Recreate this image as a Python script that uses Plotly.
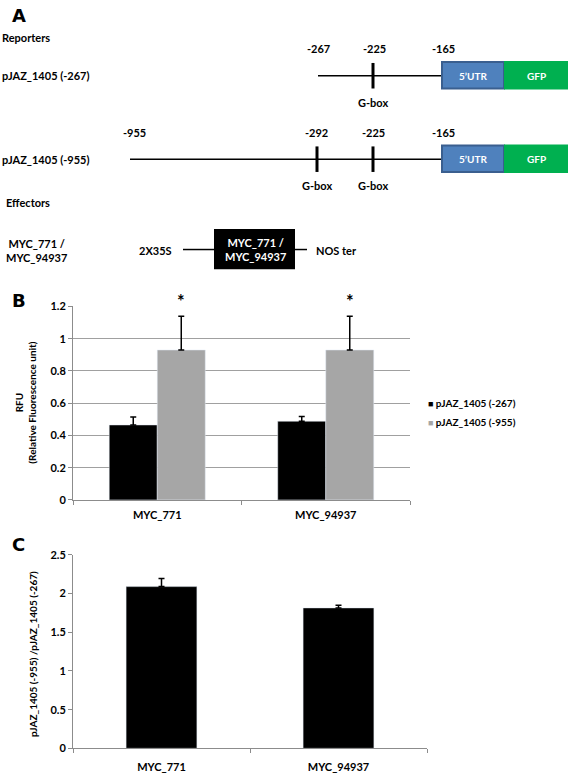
import plotly.graph_objects as go

W, H = 568, 773

# ---- data ----
reporters = ["pJAZ_1405 (-267)", "pJAZ_1405 (-955)"]
sites_short = ["-267", "-225", "-165"]
sites_long = ["-955", "-292", "-225", "-165"]
gbox = "G-box"
effector = "MYC_771 /<br>MYC_94937"
promoter = "2X35S"
terminator = "NOS ter"

effectors_b = ["MYC_771", "MYC_94937"]
rfu_267 = [0.465, 0.488]
rfu_267_err = [0.05, 0.03]
rfu_955 = [0.93, 0.93]
rfu_955_err = [0.21, 0.21]
signif = ["*", "*"]

effectors_c = ["MYC_771", "MYC_94937"]
ratio = [2.09, 1.815]
ratio_err = [0.105, 0.035]

FONT = "Lato"
GRAY_AX = "#8c8c8c"
BAR_COLORS = ["black", "#a6a6a6"]


def px(x):
    return x / W


def py(y):
    return 1 - y / H


def txt(x, y, s, size=11, color="black", anchor="center", angle=0, family=FONT):
    return dict(x=px(x), y=py(y), xref="paper", yref="paper", text=s, showarrow=False,
                xanchor=anchor, yanchor="middle", textangle=angle,
                font=dict(family=family, size=size, color=color, weight="bold"))


def line(x0, y0, x1, y1, w=1.5, color="black"):
    return dict(type="line", xref="paper", yref="paper", x0=px(x0), y0=py(y0), x1=px(x1), y1=py(y1),
                line=dict(color=color, width=w))


def rect(x0, y0, x1, y1, fill, border=None, w=0):
    return dict(type="rect", xref="paper", yref="paper", x0=px(x0), y0=py(y0), x1=px(x1), y1=py(y1),
                fillcolor=fill, line=dict(color=border or fill, width=w))


def ebar(err):
    return dict(type="data", array=err, arrayminus=[0] * len(err), symmetric=False,
                color="black", thickness=1.5, width=3)


fig = go.Figure()

# ---- panel B ----
for name, vals, errs, col in zip(reporters, [rfu_267, rfu_955], [rfu_267_err, rfu_955_err], BAR_COLORS):
    fig.add_trace(go.Bar(x=effectors_b, y=vals, name=name, marker_color=col, showlegend=False,
                         error_y=ebar(errs), xaxis="x", yaxis="y"))

# ---- panel C ----
fig.add_trace(go.Bar(x=effectors_c, y=ratio, width=0.4, marker_color="black", showlegend=False,
                     error_y=ebar(ratio_err), xaxis="x2", yaxis="y2"))

shapes = []
ann = []

# panel letters and headings
ann.append(txt(19, 9, "A", size=18, family="DejaVu Sans"))
ann.append(txt(19, 299, "B", size=18, family="DejaVu Sans"))
ann.append(txt(18, 547, "C", size=18, family="DejaVu Sans"))
ann.append(txt(0, 31, "Reporters", size=11, anchor="left"))
ann.append(txt(4, 199, "Effectors", size=11, anchor="left"))

# reporter rows
rows = [
    dict(label=reporters[0], y=70, start=318, sites=sites_short, site_x=[318, 374, 443],
         boxes=[373], label_y=42),
    dict(label=reporters[1], y=155, start=130, sites=sites_long, site_x=[134, 316, 373, 443],
         boxes=[317, 373], label_y=128),
]
for r in rows:
    y = r["y"]
    ann.append(txt(0, y, r["label"], size=11, anchor="left"))
    shapes.append(line(r["start"], y, 441, y, w=1.5))
    for s, sx in zip(r["sites"], r["site_x"]):
        ann.append(txt(sx, r["label_y"], s, size=11))
    for bx in r["boxes"]:
        shapes.append(line(bx, y - 13, bx, y + 13, w=3))
        ann.append(txt(bx, y + 27, gbox, size=11))
    shapes.append(rect(442, y - 14, 504, y + 13, "#4f81bd", "#3a5f8f", 2))
    shapes.append(rect(504, y - 15, 568, y + 14, "#00b050"))
    ann.append(txt(473, y, "5\u2019UTR", size=10, color="white"))
    ann.append(txt(536, y, "GFP", size=10, color="white"))

# effector construct
ann.append(txt(4, 248, effector, size=11, anchor="left"))
ann.append(txt(137, 248, promoter, size=11, anchor="left"))
shapes.append(line(183, 247, 214, 247, w=1.5))
shapes.append(rect(214, 226, 295, 267, "black"))
ann.append(txt(255, 247, effector, size=11, color="white"))
shapes.append(line(295, 247, 307, 247, w=1.5))
ann.append(txt(314, 248, terminator, size=11, anchor="left"))

# significance stars over grey bars
off = (1 - 0.43) / 4
for i, s in enumerate(signif):
    ann.append(dict(x=i + off, y=1.2, xref="x", yref="y", text=s, showarrow=False,
                    yanchor="bottom", yshift=-8,
                    font=dict(family=FONT, size=18, color="black", weight="bold")))

# legend for panel B
for i, (name, col) in enumerate(zip(reporters, BAR_COLORS)):
    ann.append(txt(426, 403 + 20 * i,
                   '<span style="color:%s;font-size:9px">\u25a0</span> %s' % (col, name),
                   size=10, anchor="left"))

# axis titles
ann.append(txt(26, 403, "RFU<br>(Relative Fluorescence unit)", size=10, angle=-90))
ann.append(txt(33, 659, "pJAZ_1405 (-955) /pJAZ_1405 (-267)", size=10, angle=-90))

tickfont = dict(family=FONT, size=11, color="black", weight="bold")
common_x = dict(showline=True, linecolor=GRAY_AX, linewidth=1, ticks="outside", tickson="boundaries",
                ticklen=4, tickcolor=GRAY_AX, tickfont=tickfont, showgrid=False, zeroline=False,
                fixedrange=True)
common_y = dict(showline=True, linecolor=GRAY_AX, linewidth=1, ticks="outside", ticklen=4,
                tickcolor=GRAY_AX, tickfont=tickfont, zeroline=False, fixedrange=True)

fig.update_layout(
    width=W, height=H, margin=dict(l=0, r=0, t=0, b=0),
    paper_bgcolor="white", plot_bgcolor="white",
    barmode="group", bargap=0.43, bargroupgap=0,
    xaxis=dict(domain=[px(73), px(410)], anchor="y", ticklabelstandoff=5, **common_x),
    yaxis=dict(domain=[py(502), py(305)], anchor="x", range=[0, 1.2], dtick=0.2,
               showgrid=True, gridcolor="#a0a0a0", gridwidth=1, **common_y),
    xaxis2=dict(domain=[px(73), px(427)], anchor="y2", ticklabelstandoff=8, **common_x),
    yaxis2=dict(domain=[py(755), py(558)], anchor="x2", range=[0, 2.5], dtick=0.5,
                showgrid=False, **common_y),
    shapes=shapes, annotations=ann, showlegend=False,
)

fig.write_html("out.html", config={"displayModeBar": False},
               post_script="document.body.style.margin='0';")
